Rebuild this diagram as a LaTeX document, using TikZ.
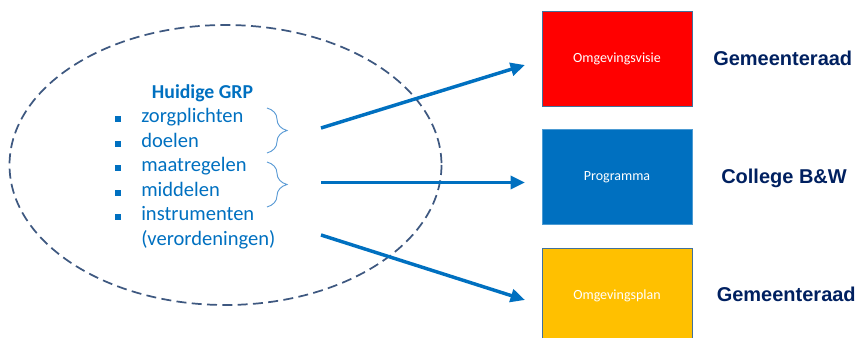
\documentclass[tikz,border=0pt]{standalone}
\usepackage{fontspec}
\setmainfont{Carlito}
\newfontfamily\rolefont{Liberation Sans}
\usetikzlibrary{arrows.meta,decorations.pathreplacing}

\definecolor{grpblue}{RGB}{0,112,192}
\definecolor{ringblue}{RGB}{62,88,128}
\definecolor{braceblue}{RGB}{91,155,213}
\definecolor{rolenavy}{RGB}{0,32,96}
\definecolor{visiered}{RGB}{255,0,0}
\definecolor{planyellow}{RGB}{255,192,0}
\definecolor{boxedge}{RGB}{65,113,156}

\begin{document}
\begin{tikzpicture}[x=0.75pt, y=-0.75pt, every node/.style={inner sep=0pt},
	item/.style={anchor=base west, text=grpblue, font=\fontsize{15.4}{18}\selectfont},
	bullet/.style={fill=grpblue, minimum size=4.5pt},
	kader/.style={draw=boxedge, line width=0.6pt, minimum width=112.5pt, minimum height=71.2pt, text=white, font=\fontsize{10.5}{12}\selectfont},
	orgaan/.style={anchor=base west, text=rolenavy, font=\rolefont\bfseries\fontsize{15}{18}\selectfont},
	accolade/.style={decorate, decoration={brace, amplitude=15pt, aspect=0.5}, braceblue, line width=0.7pt},
	>={Triangle[length=3.8mm,width=3.4mm]}]
	\useasboundingbox (0,0) rectangle (857,338);
	% dashed ring round the current GRP
	\draw[ringblue, line width=1.3pt, dash pattern=on 7.5pt off 4pt] (225.5,165) ellipse [x radius=216, y radius=140];
	\node[anchor=base, text=grpblue, font=\bfseries\fontsize{14.8}{17}\selectfont] (titel) at (202.5,99) {Huidige GRP};
	\node[bullet] (b1) at (118,119.5) {}; \node[item] (zorg) at (141,123) {zorgplichten};
	\node[bullet] (b2) at (118,144) {};   \node[item] (doel) at (141,147.5) {doelen};
	\node[bullet] (b3) at (118,168.5) {}; \node[item] (maat) at (141,172) {maatregelen};
	\node[bullet] (b4) at (118,193) {};   \node[item] (midd) at (141,196.5) {middelen};
	\node[bullet] (b5) at (118,217.5) {}; \node[item] (instr) at (141,221) {instrumenten};
	\node[item] (veror) at (141,245.5) {(verordeningen)};
	\draw[accolade] (267,108) -- (267,153);
	\draw[accolade] (267,162) -- (267,207);
	% instruments on the right
	\node[kader, fill=visiered] (visie) at (617,58.5) {Omgevingsvisie};
	\node[kader, fill=grpblue, draw=grpblue!70] (progr) at (617,177) {Programma};
	\node[kader, fill=planyellow] (plan) at (617,295.5) {Omgevingsplan};
	\node[orgaan] (raad1) at (713,66) {Gemeenteraad};
	\node[orgaan] (college) at (721,183.5) {College B\&W};
	\node[orgaan] (raad2) at (716.5,302) {Gemeenteraad};
	\coordinate (s1) at (321,128);   \coordinate (t1) at (525,65);
	\coordinate (s2) at (321,182.5); \coordinate (t2) at (525,182.5);
	\coordinate (s3) at (321,235);   \coordinate (t3) at (525,300);
	\draw[->, grpblue, line width=2.6pt] (s1) -- (t1);
	\draw[->, grpblue, line width=2.6pt] (s2) -- (t2);
	\draw[->, grpblue, line width=2.6pt] (s3) -- (t3);
\end{tikzpicture}
\end{document}
